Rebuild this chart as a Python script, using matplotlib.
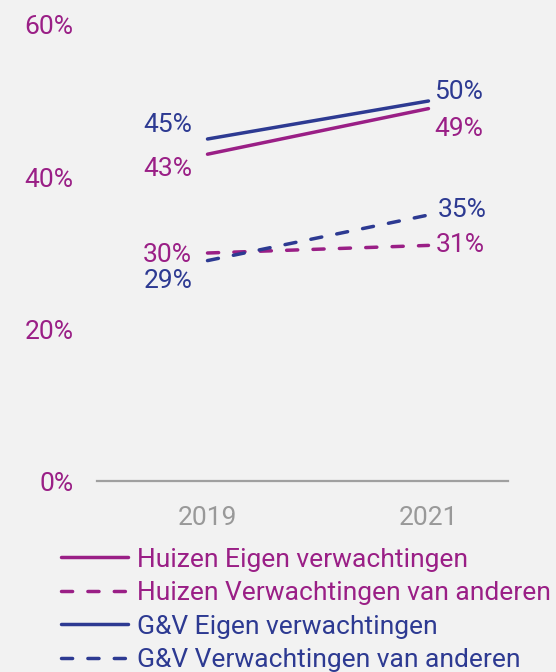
import matplotlib.pyplot as plt

# data
years = ["2019", "2021"]
huizen_eigen = [43, 49]
huizen_anderen = [30, 31]
gv_eigen = [45, 50]
gv_anderen = [29, 35]
series_names = ["Huizen Eigen verwachtingen", "Huizen Verwachtingen van anderen",
                "G&V Eigen verwachtingen", "G&V Verwachtingen van anderen"]
yticks = [0, 20, 40, 60]

purple = "#9a1f86"
blue = "#2d3a92"
bg = "#f2f2f2"

plt.rcParams['font.family'] = ['Roboto', 'DejaVu Sans']

fig = plt.figure(figsize=(5.56, 6.72), dpi=100, facecolor=bg)
ax = fig.add_axes([0.1745, 0.2842, 0.7392, 0.6786])
ax.set_facecolor(bg)

x = list(range(len(years)))
lw = 2.5
dash = (3.2, 4.4)
ax.plot(x, huizen_eigen, color=purple, lw=lw, solid_capstyle='round', label=series_names[0])
ax.plot(x, huizen_anderen, color=purple, lw=lw, dashes=dash, dash_capstyle='round', label=series_names[1])
ax.plot(x, gv_eigen, color=blue, lw=lw, solid_capstyle='round', label=series_names[2])
ax.plot(x, gv_anderen, color=blue, lw=lw, dashes=dash, dash_capstyle='round', label=series_names[3])

fs = 19
# value labels, offsets in points (dx, dy to baseline)
def lab(i, v, dx, dy, col):
    ax.annotate(f"{v}%", (x[i], v), xytext=(dx, dy), textcoords='offset points',
                ha='right' if i == 0 else 'left', va='baseline', color=col, fontsize=fs)

lab(0, gv_eigen[0], -11, 5, blue)
lab(0, huizen_eigen[0], -11, -15.7, purple)
lab(0, huizen_anderen[0], -11, -6.5, purple)
lab(0, gv_anderen[0], -11, -19.7, blue)
lab(1, gv_eigen[1], 4, 1.4, blue)
lab(1, huizen_eigen[1], 4, -19.7, purple)
lab(1, gv_anderen[1], 6.5, -1.4, blue)
lab(1, huizen_anderen[1], 5, -4.8, purple)

ax.set_xlim(-0.5, 1.36)
ax.set_ylim(0, 60)
ax.set_xticks(x)
ax.set_xticklabels(years, color="#999999", fontsize=fs)
ax.set_yticks(yticks)
ax.set_yticklabels([f"{t}%" for t in yticks], color=purple, fontsize=fs)
ax.tick_params(length=0)
ax.tick_params(axis='x', pad=18)
ax.tick_params(axis='y', pad=17)
for s in ['top', 'right', 'left']:
    ax.spines[s].set_visible(False)
ax.spines['bottom'].set_color("#a0a0a0")
ax.spines['bottom'].set_linewidth(1.6)

leg = fig.legend(loc='upper left', bbox_to_anchor=(0.11, 0.185), frameon=False,
                 fontsize=fs, handlelength=2.55, handletextpad=0.32, labelspacing=0.36,
                 borderpad=0, borderaxespad=0, labelcolor='linecolor')

fig.savefig("out.png", dpi=100, facecolor=bg)
